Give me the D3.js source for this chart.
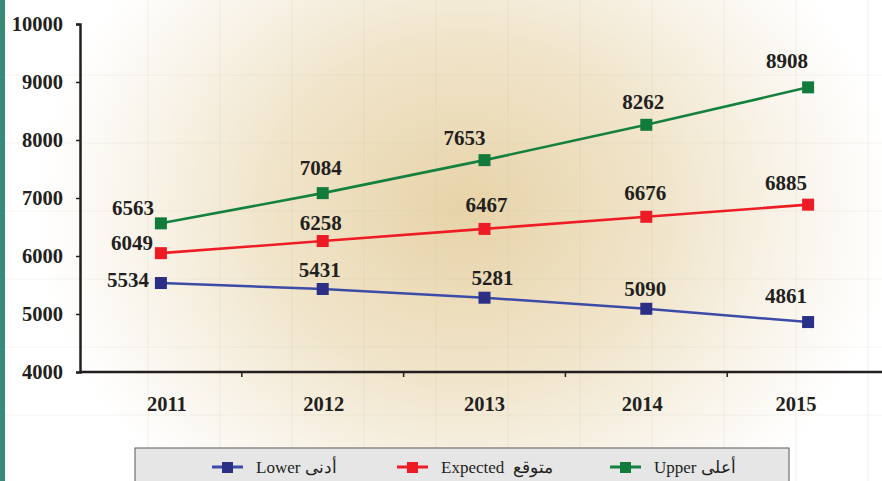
<!DOCTYPE html>
<html>
<head>
<meta charset="utf-8">
<script src="https://cdn.jsdelivr.net/npm/d3@7"></script>
<style>
  html, body { margin: 0; padding: 0; background: #fff; }
  svg { display: block; }
</style>
</head>
<body>
<script>
// chart values
const years = ["2011", "2012", "2013", "2014", "2015"];
const upper = [6563, 7084, 7653, 8262, 8908];
const expected = [6049, 6258, 6467, 6676, 6885];
const lower = [5534, 5431, 5281, 5090, 4861];
const yTicks = [4000, 5000, 6000, 7000, 8000, 9000, 10000];
const legendLabels = ["Lower أدنى", "Expected  متوقع", "Upper أعلى"];

// label nudges (layout only), per year
const upperDx = [-28, -2, -20, -3, -21], upperDy = [-15, -25, -22, -23, -26];
const expDx = [-29, -2, 2, -1, -22], expDy = [-10, -18, -24, -24, -22];
const lowDx = [-33, -3, 8, -1, -22], lowDy = [-3, -19, -20, -20, -26];

const w = 882, h = 481;
const svg = d3.select("body").append("svg").attr("width", w).attr("height", h);

// soft radial background
const defs = svg.append("defs");
const grad = defs.append("radialGradient")
  .attr("id", "bg").attr("gradientUnits", "userSpaceOnUse")
  .attr("cx", 465).attr("cy", 210).attr("r", 430)
  .attr("gradientTransform", "translate(465,210) scale(1,0.85) translate(-465,-210)");
grad.append("stop").attr("offset", 0).attr("stop-color", "#e7d3a8");
grad.append("stop").attr("offset", 0.45).attr("stop-color", "#f0e4c9");
grad.append("stop").attr("offset", 0.8).attr("stop-color", "#faf6ee");
grad.append("stop").attr("offset", 1).attr("stop-color", "#ffffff");
svg.append("rect").attr("width", w).attr("height", h).attr("fill", "url(#bg)");

// faint texture grid in the background
const bgGrid = svg.append("g").attr("stroke", "#cfc6b6").attr("stroke-opacity", 0.2).attr("stroke-width", 1.2);
d3.range(148, 880, 72).forEach(x => bgGrid.append("line").attr("x1", x).attr("x2", x).attr("y1", 0).attr("y2", h));
d3.range(75, 440, 68).forEach(y => bgGrid.append("line").attr("x1", 0).attr("x2", w).attr("y1", y).attr("y2", y));

// left accent bar
svg.append("rect").attr("x", 0).attr("y", 0).attr("width", 5).attr("height", h).attr("fill", "#3a8a7a");

const x = d3.scaleBand().domain(years).range([80, 889]);
const y = d3.scaleLinear().domain([4000, 10000]).range([372, 24]);
const cx = d => x(d) + x.bandwidth() / 2;

// axes
const yAxis = svg.append("g").attr("transform", "translate(80,0)")
  .call(d3.axisLeft(y).tickValues(yTicks).tickSize(4).tickPadding(13).tickFormat(d3.format("d")));
const xAxis = svg.append("g").attr("transform", "translate(0,372)")
  .call(d3.axisBottom(x).tickSize(0).tickPadding(24));
[yAxis, xAxis].forEach(a => {
  a.select(".domain").attr("stroke", "#231f20").attr("stroke-width", 2.5);
  a.selectAll(".tick line").attr("stroke", "#231f20").attr("stroke-width", 1.5);
  a.selectAll("text").attr("fill", "#231f20")
    .style("font-family", "'Liberation Serif', 'Times New Roman', serif")
    .style("font-weight", "bold").style("font-size", "20.5px");
});
xAxis.select(".domain").attr("d", "M80,0H882");
xAxis.selectAll(".tick text").attr("dx", (d, i) => [6, 1, 0, -4, -12][i]);
// small ticks between categories
xAxis.selectAll(".sep").data(years.slice(1)).enter().append("line")
  .attr("x1", d => x(d)).attr("x2", d => x(d)).attr("y1", 0).attr("y2", 5)
  .attr("stroke", "#231f20").attr("stroke-width", 1.5);

// series
const series = [
  { vals: upper, line: "#14813f", mark: "#127a3b", dx: upperDx, dy: upperDy },
  { vals: expected, line: "#ee1c25", mark: "#ed1c24", dx: expDx, dy: expDy },
  { vals: lower, line: "#3b4ba6", mark: "#2b2f86", dx: lowDx, dy: lowDy }
];
const line = d3.line().x((d, i) => cx(years[i])).y(d => y(d));

series.forEach(s => {
  svg.append("path").attr("d", line(s.vals)).attr("fill", "none")
    .attr("stroke", s.line).attr("stroke-width", 2.6);
  svg.selectAll(null).data(s.vals).enter().append("rect")
    .attr("x", (d, i) => cx(years[i]) - 6).attr("y", d => y(d) - 6)
    .attr("width", 12).attr("height", 12).attr("fill", s.mark);
  svg.selectAll(null).data(s.vals).enter().append("text")
    .attr("x", (d, i) => cx(years[i]) + s.dx[i])
    .attr("y", (d, i) => y(d) + s.dy[i] + 7)
    .attr("text-anchor", "middle")
    .attr("fill", "#231f20")
    .style("font-family", "'Liberation Serif', 'Times New Roman', serif")
    .style("font-weight", "bold").style("font-size", "21px")
    .text(d => d);
});

// legend
const legend = svg.append("g");
legend.append("rect").attr("x", 135).attr("y", 448).attr("width", 654).attr("height", 40)
  .attr("fill", "#e6e6e7").attr("stroke", "#58595b").attr("stroke-width", 1);
const legendX = [212, 397, 610];
const legendSeries = [series[2], series[1], series[0]];
legendLabels.forEach((lab, i) => {
  const g = legend.append("g").attr("transform", `translate(${legendX[i]},467)`);
  g.append("line").attr("x1", 0).attr("x2", 31).attr("y1", 0).attr("y2", 0)
    .attr("stroke", legendSeries[i].line).attr("stroke-width", 3);
  g.append("rect").attr("x", 10).attr("y", -5).attr("width", 11).attr("height", 11)
    .attr("fill", legendSeries[i].mark);
  g.append("text").attr("x", 44).attr("y", 6)
    .attr("direction", "ltr")
    .attr("fill", "#231f20")
    .style("font-family", "'Liberation Serif', 'Times New Roman', serif")
    .style("font-size", "17px")
    .style("white-space", "pre")
    .text(lab);
});
</script>
</body>
</html>
